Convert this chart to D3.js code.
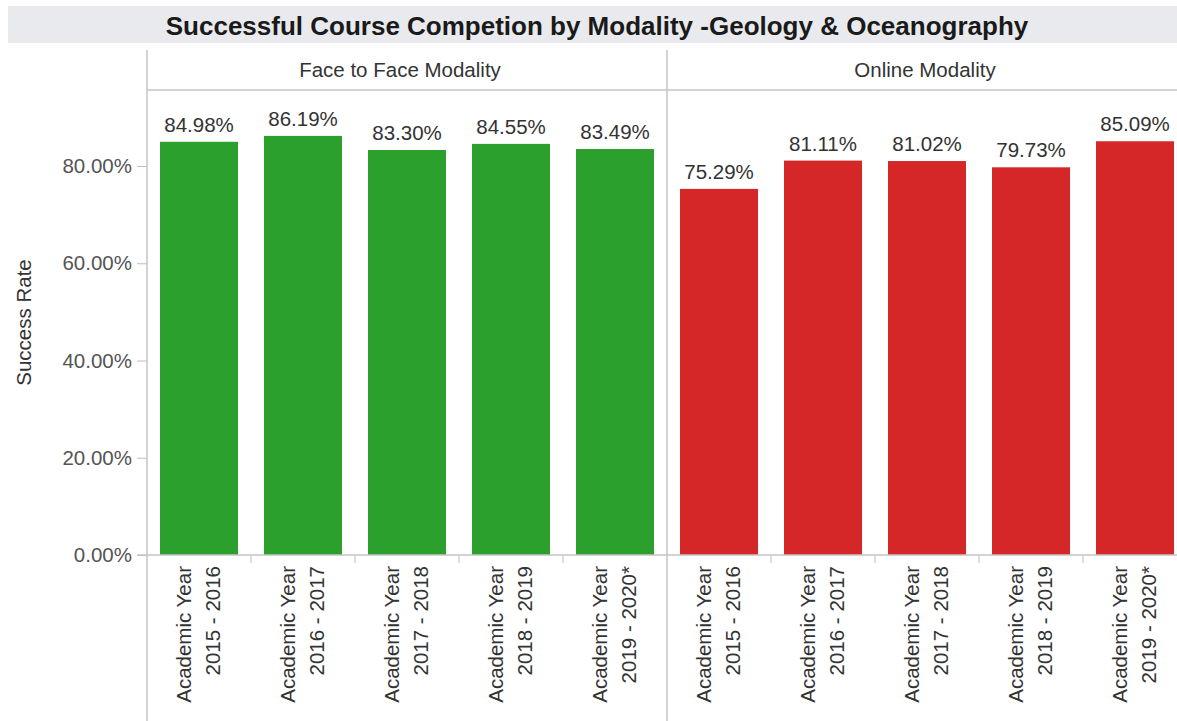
<!DOCTYPE html>
<html>
<head>
<meta charset="utf-8">
<script src="https://cdn.jsdelivr.net/npm/d3@7"></script>
<style>
  body { margin: 0; background: #fff; }
  svg { display: block; font-family: "Liberation Sans", Arial, sans-serif; }
</style>
</head>
<body>
<div id="chart"></div>
<script>
// DATA
const modalities = ["Face to Face Modality", "Online Modality"];
const yearPrefix = "Academic Year";
const years = ["2015 - 2016", "2016 - 2017", "2017 - 2018", "2018 - 2019", "2019 - 2020*"];
const faceToFace = [84.98, 86.19, 83.30, 84.55, 83.49];
const online = [75.29, 81.11, 81.02, 79.73, 85.09];
const yTicks = [0, 20, 40, 60, 80];
const colors = ["#2ca02c", "#d62728"];

const series = [faceToFace, online];

const width = 1177, height = 721;
const axisX = 147, headerTop = 50, headerLine = 90, baseY = 555;

const svg = d3.select("#chart").append("svg")
    .attr("width", width).attr("height", height);

// title band
svg.append("rect")
    .attr("x", 8).attr("y", 6).attr("width", width - 8).attr("height", 37)
    .attr("fill", "#e9eaee");
svg.append("text")
    .attr("x", 597).attr("y", 35)
    .attr("text-anchor", "middle")
    .style("font-size", "26px").style("font-weight", "bold")
    .style("fill", "#1a1a1a")
    .text("Successful Course Competion by Modality -Geology & Oceanography");

// scales
const panel = d3.scaleBand().domain(modalities).range([axisX, axisX + 1040]);
const x = d3.scaleBand().domain(years).range([0, panel.bandwidth()])
    .paddingInner(0.25).paddingOuter(0.125);
const y = d3.scaleLinear().domain([0, 95.63]).range([baseY, headerLine]);

const fmt = d => d3.format(".2f")(d) + "%";

// y axis
const yAxis = svg.append("g")
    .attr("transform", `translate(${axisX},0)`)
    .call(d3.axisLeft(y).tickValues(yTicks).tickFormat(fmt).tickSize(10).tickPadding(5));
yAxis.select(".domain").remove();
yAxis.selectAll(".tick line").attr("stroke", "#bdbdbd");
yAxis.selectAll(".tick text")
    .style("font-size", "20.5px").style("fill", "#555")
    .attr("font-family", null);

svg.append("text")
    .attr("transform", `translate(31,${(headerLine + baseY) / 2}) rotate(-90)`)
    .attr("text-anchor", "middle")
    .style("font-size", "20.5px").style("fill", "#333")
    .text("Success Rate");

// panels
modalities.forEach((m, pi) => {
    const g = svg.append("g").attr("transform", `translate(${panel(m)},0)`);
    const vals = series[pi];

    g.append("text")
        .attr("x", panel.bandwidth() / 2 - (pi === 0 ? 7 : 2)).attr("y", 77)
        .attr("text-anchor", "middle")
        .style("font-size", "20.5px").style("fill", "#333")
        .text(m);

    g.selectAll("rect.bar").data(years).join("rect")
        .attr("class", "bar")
        .attr("x", d => x(d))
        .attr("width", x.bandwidth())
        .attr("y", (d, i) => y(vals[i]))
        .attr("height", (d, i) => baseY - y(vals[i]))
        .attr("fill", colors[pi]);

    g.selectAll("text.val").data(years).join("text")
        .attr("class", "val")
        .attr("x", d => x(d) + x.bandwidth() / 2)
        .attr("y", (d, i) => y(vals[i]) - 10)
        .attr("text-anchor", "middle")
        .style("font-size", "20.5px").style("fill", "#333")
        .text((d, i) => fmt(vals[i]));

    // x ticks at band boundaries
    g.selectAll("line.xt").data(years.slice(1)).join("line")
        .attr("class", "xt")
        .attr("x1", d => x(d) - x.step() * x.paddingInner() / 2)
        .attr("x2", d => x(d) - x.step() * x.paddingInner() / 2)
        .attr("y1", baseY).attr("y2", baseY + 8)
        .attr("stroke", "#bdbdbd");

    // x labels
    const lab = g.selectAll("g.xl").data(years).join("g")
        .attr("class", "xl")
        .attr("transform", d => `translate(${x(d) + x.bandwidth() / 2},566) rotate(-90)`);
    lab.append("text")
        .attr("y", -8)
        .attr("text-anchor", "end")
        .style("font-size", "20.5px").style("fill", "#333")
        .text(yearPrefix);
    lab.append("text")
        .attr("y", 21)
        .attr("text-anchor", "end")
        .style("font-size", "20.5px").style("fill", "#333")
        .text(d => d);
});

// frame lines
const lineColor = "#c4c4c4";
svg.append("line").attr("x1", axisX).attr("x2", axisX)
    .attr("y1", headerTop).attr("y2", height).attr("stroke", lineColor).attr("stroke-width", 1.5);
svg.append("line").attr("x1", panel(modalities[1])).attr("x2", panel(modalities[1]))
    .attr("y1", headerTop).attr("y2", height).attr("stroke", lineColor).attr("stroke-width", 1.5);
svg.append("line").attr("x1", axisX).attr("x2", width)
    .attr("y1", headerLine).attr("y2", headerLine).attr("stroke", lineColor).attr("stroke-width", 1.5);
svg.append("line").attr("x1", 137).attr("x2", width)
    .attr("y1", baseY).attr("y2", baseY).attr("stroke", lineColor).attr("stroke-width", 1.5);
</script>
</body>
</html>
